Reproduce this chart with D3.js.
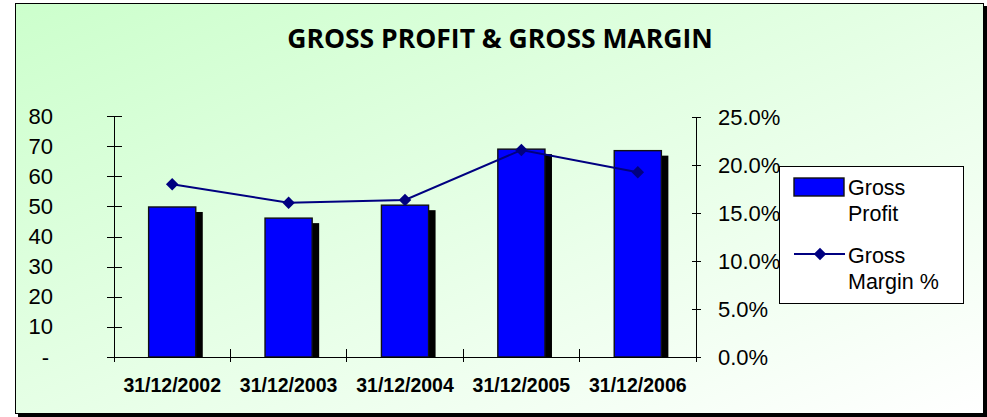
<!DOCTYPE html>
<html lang="en">
<head>
<meta charset="utf-8">
<title>Gross Profit & Gross Margin</title>
<script src="https://cdn.jsdelivr.net/npm/d3@7/dist/d3.min.js"></script>
<style>
  body { margin: 0; background: #fff; }
  .axis path, .axis line { fill: none; stroke: #000; shape-rendering: crispEdges; }
  .axis text { font-family: "Liberation Sans", Arial, sans-serif; font-size: 22px; fill: #000; }
  .xaxis text { font-size: 19.5px; font-weight: bold; }
</style>
</head>
<body>
<script>
var w = 987, h = 417;

// data
var categories = ["31/12/2002", "31/12/2003", "31/12/2004", "31/12/2005", "31/12/2006"];
var grossProfit = [49.8, 46.1, 50.4, 69.0, 68.5];
var grossMargin = [0.180, 0.1607, 0.1635, 0.2156, 0.1924];
var leftTicks = [0, 10, 20, 30, 40, 50, 60, 70, 80];
var rightTicks = [0, 0.05, 0.10, 0.15, 0.20, 0.25];
var legendLabels = [["Gross", "Profit"], ["Gross", "Margin %"]];

var plot = { left: 114, right: 696, top: 116, bottom: 357 };

var svg = d3.select("body").append("svg")
    .attr("width", w)
    .attr("height", h);

var defs = svg.append("defs");
var grad = defs.append("linearGradient")
    .attr("id", "bg")
    .attr("x1", "0%").attr("y1", "0%")
    .attr("x2", "100%").attr("y2", "100%");
grad.append("stop").attr("offset", "0%").attr("stop-color", "#ccffcc");
grad.append("stop").attr("offset", "100%").attr("stop-color", "#ffffff");

// frame with shadow
svg.append("rect")
    .attr("x", 18).attr("y", 6)
    .attr("width", 969).attr("height", 411)
    .attr("fill", "#000");
svg.append("rect")
    .attr("x", 15.5).attr("y", 3.5)
    .attr("width", 968).attr("height", 410)
    .attr("fill", "url(#bg)")
    .attr("stroke", "#000")
    .attr("stroke-width", 1);

svg.append("text")
    .attr("x", 500)
    .attr("y", 48)
    .attr("text-anchor", "middle")
    .attr("font-family", "'Open Sans', sans-serif")
    .attr("font-weight", "bold")
    .attr("font-size", "26.5px")
    .text("GROSS PROFIT & GROSS MARGIN");

var xScale = d3.scaleBand()
    .domain(categories)
    .range([plot.left, plot.right]);

var yScale = d3.scaleLinear()
    .domain([0, 80])
    .range([plot.bottom, plot.top]);

var y2Scale = d3.scaleLinear()
    .domain([0, 0.25])
    .range([plot.bottom, 117]);

// bars: shadow first, then the bar
var barW = xScale.bandwidth() * 0.405;
var bars = svg.append("g");
bars.selectAll("rect.shadow")
    .data(grossProfit)
    .enter()
    .append("rect")
    .attr("class", "shadow")
    .attr("x", function(d, i) { return xScale(categories[i]) + (xScale.bandwidth() - barW) / 2 + 7; })
    .attr("y", function(d) { return yScale(d) + 5; })
    .attr("width", barW)
    .attr("height", function(d) { return plot.bottom - yScale(d) - 5; })
    .attr("fill", "#000");
bars.selectAll("rect.bar")
    .data(grossProfit)
    .enter()
    .append("rect")
    .attr("class", "bar")
    .attr("x", function(d, i) { return xScale(categories[i]) + (xScale.bandwidth() - barW) / 2; })
    .attr("y", function(d) { return yScale(d); })
    .attr("width", barW)
    .attr("height", function(d) { return plot.bottom - yScale(d); })
    .attr("fill", "#0000ff")
    .attr("stroke", "#111")
    .attr("stroke-width", 1.4);

// left axis
var yAxis = d3.axisLeft(yScale)
    .tickValues(leftTicks)
    .tickSize(7)
    .tickPadding(54)
    .tickFormat(function(d) { return d === 0 ? "-" : d; });
var gy = svg.append("g")
    .attr("class", "axis")
    .attr("transform", "translate(" + plot.left + ",0)")
    .call(yAxis);
gy.select(".domain").attr("d", "M0," + plot.top + "V" + plot.bottom);
gy.selectAll(".tick line").attr("x1", -7).attr("x2", 8);
gy.selectAll(".tick text").filter(function(d) { return d === 0; }).attr("dx", "-4");

// right axis
var y2Axis = d3.axisRight(y2Scale)
    .tickValues(rightTicks)
    .tickSize(5)
    .tickPadding(17)
    .tickFormat(d3.format(".1%"));
var gy2 = svg.append("g")
    .attr("class", "axis")
    .attr("transform", "translate(" + plot.right + ",0)")
    .call(y2Axis);
gy2.select(".domain").attr("d", "M0," + y2Scale(0.25) + "V" + plot.bottom);
gy2.selectAll(".tick line").attr("x1", -4).attr("x2", 5);

// bottom axis: labels centered on bands, ticks on band edges
var xAxis = d3.axisBottom(xScale).tickSize(0);
var gx = svg.append("g")
    .attr("class", "axis xaxis")
    .attr("transform", "translate(0," + plot.bottom + ")")
    .call(xAxis);
gx.select(".domain").attr("d", "M" + plot.left + ",0H" + plot.right);
gx.selectAll(".tick text").attr("y", 35).attr("dy", 0);
var edges = categories.map(function(c) { return xScale(c); }).concat([xScale.range()[1]]);
gx.selectAll("line.edge")
    .data(edges)
    .enter()
    .append("line")
    .attr("class", "edge")
    .attr("x1", function(d) { return d; })
    .attr("x2", function(d) { return d; })
    .attr("y1", -8)
    .attr("y2", 5)
    .attr("stroke", "#000");

// margin line
var line = d3.line()
    .x(function(d, i) { return xScale(categories[i]) + xScale.bandwidth() / 2; })
    .y(function(d) { return y2Scale(d); });
svg.append("path")
    .datum(grossMargin)
    .attr("d", line)
    .attr("fill", "none")
    .attr("stroke", "#000080")
    .attr("stroke-width", 2);
var diamond = d3.symbol().type(d3.symbolSquare).size(78);
svg.selectAll("path.marker")
    .data(grossMargin)
    .enter()
    .append("path")
    .attr("class", "marker")
    .attr("d", diamond)
    .attr("transform", function(d, i) {
        return "translate(" + (xScale(categories[i]) + xScale.bandwidth() / 2) + "," + y2Scale(d) + ") rotate(45)";
    })
    .attr("fill", "#000080");

// legend
var legend = svg.append("g").attr("transform", "translate(779,166)");
legend.append("rect")
    .attr("x", 0.5).attr("y", 0.5)
    .attr("width", 184).attr("height", 137)
    .attr("fill", "#fff")
    .attr("stroke", "#000");
legend.append("rect")
    .attr("x", 15).attr("y", 12)
    .attr("width", 50).attr("height", 18)
    .attr("fill", "#0000ff")
    .attr("stroke", "#111")
    .attr("stroke-width", 1.4);
legend.append("line")
    .attr("x1", 15).attr("x2", 66)
    .attr("y1", 88).attr("y2", 88)
    .attr("stroke", "#000080")
    .attr("stroke-width", 2);
legend.append("path")
    .attr("d", diamond)
    .attr("transform", "translate(41,88) rotate(45)")
    .attr("fill", "#000080");
legend.selectAll("text.lab")
    .data(legendLabels)
    .enter()
    .append("text")
    .attr("class", "lab")
    .attr("x", 69)
    .attr("y", function(d, i) { return 29 + i * 68; })
    .attr("font-family", "'Liberation Sans', Arial, sans-serif")
    .attr("font-size", "21.5px")
    .selectAll("tspan")
    .data(function(d) { return d; })
    .enter()
    .append("tspan")
    .attr("x", 69)
    .attr("dy", function(d, j) { return j === 0 ? 0 : 26; })
    .text(function(d) { return d; });
</script>
</body>
</html>
